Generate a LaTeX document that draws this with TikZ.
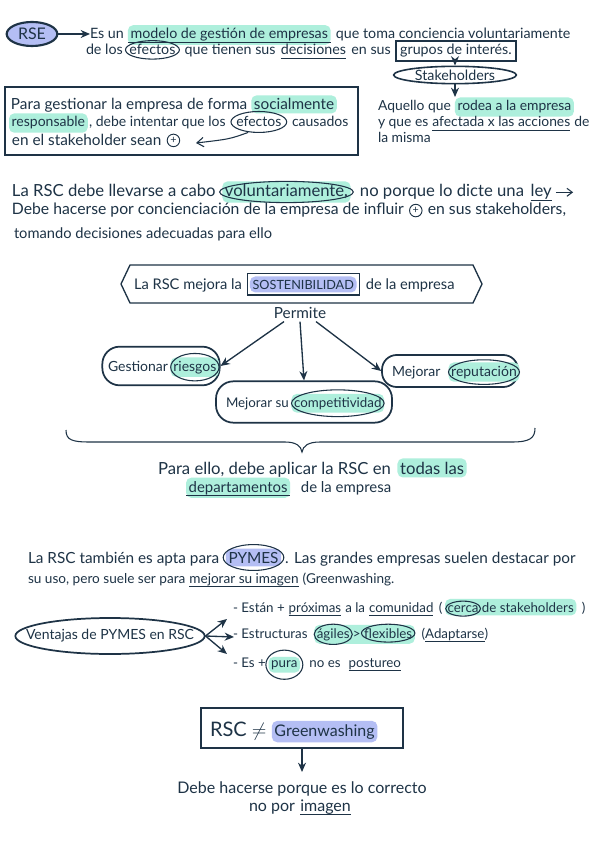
\documentclass[tikz,border=0pt]{standalone}
\usepackage{fontspec}
\setmainfont{Lato}
\usetikzlibrary{shapes.geometric,arrows.meta,calc}
\definecolor{ink}{HTML}{1E3346}
\definecolor{mint}{HTML}{AEEFDC}
\definecolor{peri}{HTML}{B4BEF4}
\newcommand\fs[1]{\fontsize{#1}{#1}\selectfont}
\newcommand\fa{\fs{10.7}}
\newcommand\fb{\fs{10.5}}
\newcommand\ring[3]{\draw[ink,line width=0.8pt] let \p1=($(#1.north east)-(#1.south west)$) in (#1.center) ellipse [x radius={abs(\x1)/2+#2}, y radius={abs(\y1)/2+#3}];}
\newcommand\ul[1]{\draw[ink,line width=0.7pt] ([yshift=-2.5pt]#1.base west) -- ([yshift=-2.5pt]#1.base east);}
\tikzset{
  tx/.style={inner sep=0pt, outer sep=0pt, anchor=base west, text=ink, font=\fa},
  hm/.style={fill=mint, rounded corners=4pt, inner xsep=2pt, inner ysep=2.5pt},
  hp/.style={fill=peri, rounded corners=4pt, inner xsep=2pt, inner ysep=2.5pt},
  arr/.style={-{Stealth[length=7pt,width=6pt]}, draw=ink, line width=1pt},
  rr/.style={draw=ink, line width=1.3pt, rounded corners=13pt},
  plus/.style={draw=ink, circle, line width=0.7pt, inner sep=1pt, text=ink, font=\footnotesize, anchor=west}
}
\begin{document}
\begin{tikzpicture}[x=0.75pt,y=-0.75pt]
\useasboundingbox (0,0) rectangle (600,848);
\fill[white] (0,0) rectangle (600,848);

% ---------- Section 1
\node[draw=ink, line width=1.6pt, fill=peri, ellipse, minimum width=38pt, minimum height=18pt, inner sep=0pt, text=ink, font=\large] (rse) at (32,34) {RSE};
\node[tx] (a1) at (90,39) {Es un};
\node[tx,hm] (a2) at ([xshift=3pt]a1.base east) {modelo de gestión de empresas};
\ul{a2}
\node[tx] (a3) at ([xshift=4pt]a2.base east) {que toma conciencia voluntariamente};
\draw[arr] (rse.east) -- (rse.east -| a1.west);

\node[tx] (b1) at (86,55) {de los};
\node[tx] (b2) at ([xshift=5pt]b1.base east) {efectos};
\ring{b2}{3pt}{3pt}
\node[tx] (b3) at ([xshift=7pt]b2.base east) {que tienen sus};
\node[tx] (b4) at ([xshift=4pt]b3.base east) {decisiones};
\ul{b4}
\node[tx] (b5) at ([xshift=4pt]b4.base east) {en sus};
\node[tx, draw=ink, line width=1.3pt, inner xsep=3pt, inner ysep=2.5pt] (b6) at ([xshift=4pt]b5.base east) {grupos de interés.};

\node[draw=ink, line width=1.2pt, ellipse, minimum width=92pt, minimum height=13pt, inner sep=0pt, text=ink, font=\fa] (stk) at (455,75) {Stakeholders};
\draw[arr] (b6.south -| stk.north) -- (stk.north);
\coordinate (aq) at (455,97);
\draw[arr] (stk.south) -- (aq);

\node[tx,font=\fs{10.4}] (c1) at (378,111) {Aquello que};
\node[tx,hm,font=\fs{10.4}] (c2) at ([xshift=3pt]c1.base east) {rodea a la empresa};
\node[tx,font=\fs{10.4}] (c3) at (378,127) {y que es};
\node[tx,font=\fs{10.4}] (c4) at ([xshift=3pt]c3.base east) {afectada x las acciones};
\ul{c4}
\node[tx,font=\fs{10.4}] (c5) at ([xshift=3pt]c4.base east) {de};
\node[tx,font=\fs{10.4}] (c6) at (378,143) {la misma};

% ---------- Section 2 box
\node[draw=ink, line width=1.5pt, minimum width=264.75pt, minimum height=51pt, inner sep=0pt] (box2) at (181.5,121) {};
\node[tx,font=\fs{11.5}] (d1) at (11,110) {Para gestionar la empresa de forma};
\node[tx,hm,font=\fs{11.5}] (d2) at ([xshift=3pt]d1.base east) {socialmente};
\node[tx,hm,font=\fs{10.5}] (d3) at (9,127) {responsable};
\node[tx,font=\fs{10.5}] (d4) at ([xshift=1pt]d3.base east) {, debe intentar que los};
\node[tx,font=\fs{10.5}] (d5) at ([xshift=8pt]d4.base east) {efectos};
\ring{d5}{4pt}{4pt}
\node[tx,font=\fs{10.5}] (d6) at ([xshift=8pt]d5.base east) {causados};
\node[tx,font=\fs{11.5}] (d7) at (12,146) {en el stakeholder sean};
\node[plus] (d8) at ([xshift=4pt]d7.east) {+};
\coordinate (d9) at (196,143);
\draw[ink, line width=0.8pt, -{Straight Barb[length=5pt,width=7pt]}] ([xshift=-8pt,yshift=-4pt]d5.south) .. controls ([xshift=-22pt,yshift=-9pt]d5.south) .. (d9);

% ---------- Section 3
\node[tx,font=\fs{12.5}] (e1) at (12,197) {La RSC debe llevarse a cabo};
\node[tx,hm,font=\fs{12.5}] (e2) at ([xshift=5pt]e1.base east) {voluntariamente,};
\ring{e2}{2pt}{0pt}
\node[tx,font=\fs{12.5}] (e3) at ([xshift=7pt]e2.base east) {no porque lo dicte una};
\node[tx,font=\fs{12.5}] (e4) at ([xshift=5pt]e3.base east) {ley};
\ul{e4}
\coordinate (e5) at ([xshift=16pt]e4.east);
\draw[ink, line width=0.8pt, -{Straight Barb[length=4pt,width=6pt]}] ([xshift=3pt]e4.east) -- (e5);
\node[tx,font=\fs{11.8}] (f1) at (12,215) {Debe hacerse por concienciación de la empresa de influir};
\node[plus] (f2) at ([xshift=4pt]f1.east) {+};
\node[tx,font=\fs{11.8},xshift=4pt] (f3) at (f2.east |- f1.base) {en sus stakeholders,};
\node[tx,font=\fs{11}] (f4) at (14,239) {tomando decisiones adecuadas para ello};

% ---------- Section 4
\draw[ink, line width=1pt] (121,284) -- (130,265) -- (473,265) -- (482,284) -- (473,303) -- (130,303) -- cycle;
\node[tx,font=\fs{11}] (g1) at (134,289) {La RSC mejora la};
\node[tx,hp,font=\fs{9.5}] (g2) at ([xshift=6pt]g1.base east) {SOSTENIBILIDAD};
\draw[ink, line width=1pt] ([shift={(-2pt,-2pt)}]g2.south west) rectangle ([shift={(2pt,2pt)}]g2.north east);
\node[tx,font=\fs{11}] (g3) at ([xshift=7pt]g2.base east) {de la empresa};
\node[text=ink, font=\fs{11.5}, inner sep=2pt] (perm) at (300,313) {Permite};

\node[rr, minimum width=88pt, minimum height=29pt] (G) at (161,366) {};
\node[tx,font=\fb] (g4) at (108,371) {Gestionar};
\node[tx,hm,font=\fb] (g5) at ([xshift=2pt]g4.base east) {riesgos};
\ring{g5}{0pt}{3pt}
\node[rr, minimum width=132pt, minimum height=31pt] (C) at (304,402) {};
\node[tx,font=\fs{10}] (c7) at (226,407) {Mejorar su};
\node[tx,hm,font=\fs{10}] (c8) at ([xshift=2pt]c7.base east) {competitividad};
\ring{c8}{0pt}{3pt}
\node[rr, minimum width=102pt, minimum height=24pt, rounded corners=11pt] (R) at (450,371) {};
\node[tx,font=\fb] (r1) at (392,376) {Mejorar};
\node[tx,hm,font=\fb] (r2) at ([xshift=6pt]r1.base east) {reputación};
\ring{r2}{0pt}{2pt}
\draw[arr] ([xshift=-12pt]perm.south) -- (G.east);
\draw[arr] (perm.south) -- (C.north);
\draw[arr] ([xshift=12pt]perm.south) -- (R.west);

% brace
\draw[ink, line width=0.8pt] (66,430) .. controls (66,440) and (72,442) .. (90,442) -- (285,442) .. controls (296,442) and (301,446) .. (302,452) .. controls (303,446) and (308,442) .. (320,442) -- (512,442) .. controls (530,442) and (535,438) .. (535,428);
\node[tx,font=\fs{12.5}] (h1) at (158,474) {Para ello, debe aplicar la RSC en};
\node[tx,hm,font=\fs{12.5}] (h2) at ([xshift=5pt]h1.base east) {todas las};
\node[tx,hm,font=\fs{11.2}] (h3) at (186,492) {departamentos};
\ul{h3}
\node[tx,font=\fs{11.2}] (h4) at ([xshift=8pt]h3.base east) {de la empresa};

% ---------- Section 6
\node[tx,font=\fs{11.5}] (i1) at (28,563) {La RSC también es apta para};
\node[tx,hp,font=\fs{11.5}] (i2) at ([xshift=5pt]i1.base east) {PYMES};
\ring{i2}{2pt}{3pt}
\node[tx,font=\fs{11.5}] (i3) at ([xshift=3pt]i2.base east) {. Las grandes empresas suelen destacar por};
\node[tx,font=\fs{10.2}] (i4) at (28,583) {su uso, pero suele ser para};
\node[tx,font=\fs{10.2}] (i5) at ([xshift=3pt]i4.base east) {mejorar su imagen};
\ul{i5}
\node[tx,font=\fs{10.2}] (i6) at ([xshift=3pt]i5.base east) {(Greenwashing.};

\node[draw=ink, line width=1.3pt, ellipse, minimum width=142pt, minimum height=27pt, inner sep=0pt] (V) at (110,636) {};
\node[text=ink, font=\fb, inner sep=0pt] (Vt) at (V.center) {Ventajas de PYMES en RSC};
\coordinate (j1) at (227,619);
\coordinate (j2) at (234,637);
\coordinate (j3) at (227,654);
\draw[arr] (V.east) -- (j1);
\draw[arr] (V.east) -- (j2);
\draw[arr] (V.east) -- (j3);

\node[tx,font=\fs{10}] (k1) at (233,612) {- Están +};
\node[tx,font=\fs{10}] (k2) at ([xshift=3pt]k1.base east) {próximas};
\ul{k2}
\node[tx,font=\fs{10}] (k3) at ([xshift=3pt]k2.base east) {a la};
\node[tx,font=\fs{10}] (k4) at ([xshift=3pt]k3.base east) {comunidad};
\ul{k4}
\node[tx,font=\fs{10}] (k5) at ([xshift=4pt]k4.base east) {(};
\node[tx,hm,font=\fs{10}] (k6) at ([xshift=2pt]k5.base east) {cerca de stakeholders};
\node[tx,font=\fs{10},xshift=2pt] (k6r) at (k6.base west) {\phantom{cerca}};
\ring{k6r}{1.5pt}{3pt}
\node[tx,font=\fs{10}] (k7) at ([xshift=4pt]k6.base east) {)};

\node[tx,font=\fs{10}] (l1) at (233,638) {- Estructuras};
\node[tx,hm,font=\fs{10}] (l2) at ([xshift=5pt]l1.base east) {ágiles > flexibles};
\node[tx,font=\fs{10},xshift=2pt] (l2a) at (l2.base west) {\phantom{ágiles}};
\ring{l2a}{2pt}{3pt}
\node[tx,font=\fs{10},anchor=base east,xshift=-2pt] (l2b) at (l2.base east) {\phantom{flexibles}};
\ring{l2b}{2pt}{3pt}
\node[tx,font=\fs{10}] (l3) at ([xshift=5pt]l2.base east) {(};
\node[tx,font=\fs{10}] (l4) at (l3.base east) {Adaptarse};
\ul{l4}
\node[tx,font=\fs{10}] (l5) at (l4.base east) {)};

\node[tx,font=\fs{10}] (m1) at (233,667) {- Es +};
\node[tx,hm,font=\fs{10}] (m2) at ([xshift=2pt]m1.base east) {pura};
\ring{m2}{2pt}{5pt}
\node[tx,font=\fs{10}] (m3) at ([xshift=7pt]m2.base east) {no es};
\node[tx,font=\fs{10}] (m4) at ([xshift=6pt]m3.base east) {postureo};
\ul{m4}

% ---------- Section 7
\node[draw=ink, line width=1.5pt, minimum width=151.5pt, minimum height=30pt, inner sep=0pt] (Z) at (302,728) {};
\node[tx,font=\fs{15}] (z1) at (210,736) {RSC $\neq$};
\node[tx,hp,font=\fs{12}] (z2) at ([xshift=4pt]z1.base east) {Greenwashing};
\coordinate (z3) at (302,772);
\draw[arr] (Z.south) -- (z3);
\node[text=ink, font=\fs{12}, inner sep=0pt] (z4) at (302,789) {Debe hacerse porque es lo correcto};
\node[tx,font=\fs{12}] (z5) at (249,811) {no por};
\node[tx,font=\fs{12}] (z6) at ([xshift=4pt]z5.base east) {imagen};
\ul{z6}
\end{tikzpicture}
\end{document}
